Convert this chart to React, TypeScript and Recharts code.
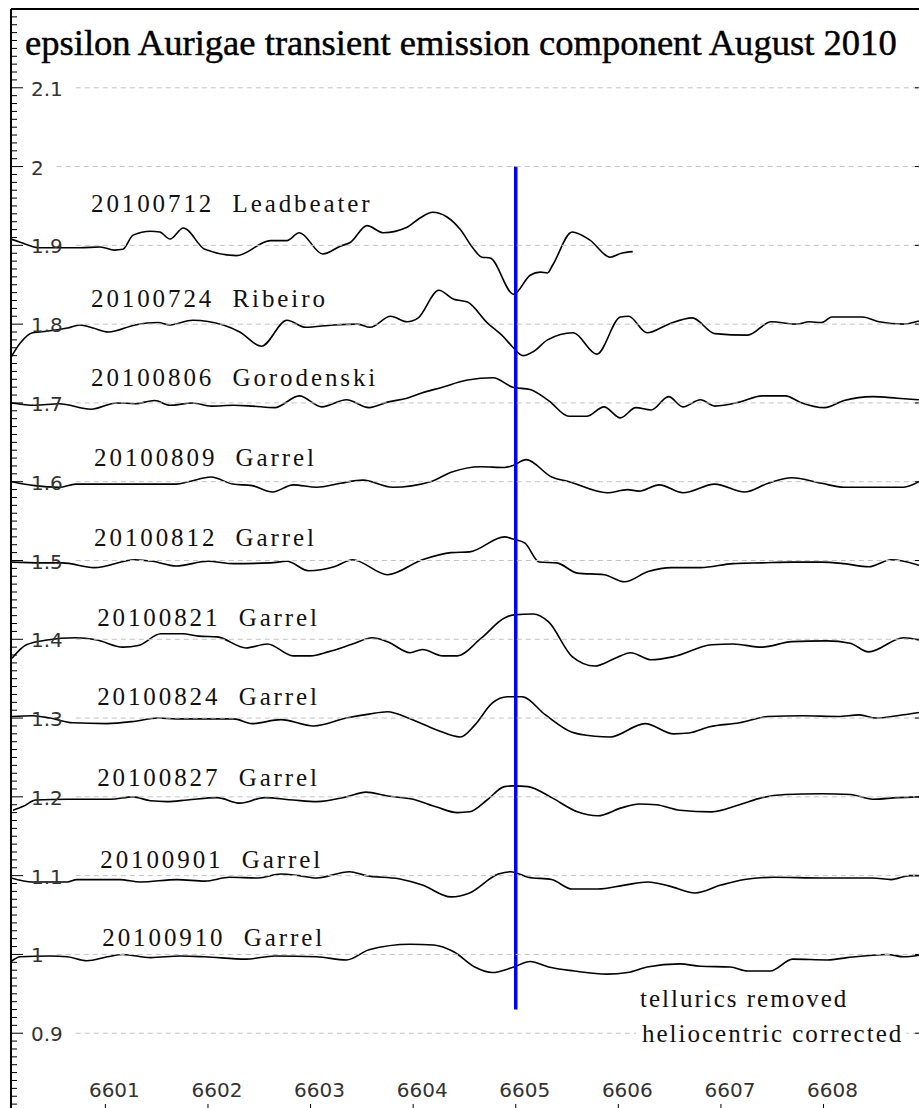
import React from 'react';
import { LineChart, Line, XAxis, YAxis, ReferenceLine, ReferenceDot } from 'recharts';

// wavelength (Å), relative flux; each night is offset by 0.1 in flux
const s20100712: [number, number][] = [
  [6600.08, 1.908], [6600.17, 1.904], [6600.36, 1.897], [6600.75, 1.897], [6600.95, 1.898],
  [6601.09, 1.894], [6601.17, 1.895], [6601.27, 1.913], [6601.44, 1.918], [6601.53, 1.917],
  [6601.63, 1.908], [6601.76, 1.922], [6601.97, 1.895], [6602.28, 1.887], [6602.61, 1.906],
  [6602.77, 1.906], [6602.89, 1.916], [6603.12, 1.889], [6603.29, 1.899], [6603.39, 1.904],
  [6603.55, 1.925], [6603.71, 1.916], [6603.94, 1.923], [6604.07, 1.935], [6604.19, 1.942],
  [6604.33, 1.936], [6604.46, 1.92], [6604.58, 1.897], [6604.67, 1.885], [6604.75, 1.884],
  [6604.98, 1.838], [6605.14, 1.862], [6605.24, 1.866], [6605.31, 1.865], [6605.36, 1.875],
  [6605.55, 1.917], [6605.72, 1.907], [6605.92, 1.885], [6606.03, 1.89], [6606.14, 1.892],
];

const s20100724: [number, number][] = [
  [6600.08, 1.758], [6600.17, 1.776], [6600.29, 1.789], [6600.36, 1.79], [6600.63, 1.795],
  [6600.75, 1.799], [6600.88, 1.795], [6601.03, 1.79], [6601.29, 1.799], [6601.51, 1.802],
  [6601.63, 1.799], [6601.85, 1.805], [6602.15, 1.799], [6602.31, 1.79], [6602.52, 1.772],
  [6602.77, 1.805], [6602.95, 1.796], [6603.22, 1.799], [6603.46, 1.8], [6603.58, 1.796],
  [6603.78, 1.81], [6603.94, 1.803], [6604.05, 1.808], [6604.25, 1.843], [6604.39, 1.832],
  [6604.53, 1.828], [6604.72, 1.802], [6604.88, 1.784], [6604.97, 1.771], [6605.07, 1.76],
  [6605.17, 1.765], [6605.31, 1.78], [6605.56, 1.789], [6605.79, 1.762], [6606.02, 1.809],
  [6606.1, 1.81], [6606.28, 1.789], [6606.49, 1.8], [6606.72, 1.808], [6606.94, 1.788],
  [6607.26, 1.786], [6607.49, 1.803], [6607.74, 1.8], [6607.86, 1.803], [6607.98, 1.802],
  [6608.08, 1.809], [6608.38, 1.809], [6608.54, 1.803], [6608.78, 1.8], [6608.93, 1.804],
];

const s20100806: [number, number][] = [
  [6600.09, 1.7], [6600.31, 1.697], [6600.55, 1.699], [6600.86, 1.692], [6601.11, 1.7],
  [6601.29, 1.699], [6601.48, 1.703], [6601.63, 1.697], [6601.85, 1.7], [6602.03, 1.696],
  [6602.25, 1.697], [6602.43, 1.696], [6602.65, 1.694], [6602.89, 1.709], [6603.11, 1.695],
  [6603.35, 1.704], [6603.57, 1.694], [6603.75, 1.701], [6603.94, 1.706], [6604.09, 1.713],
  [6604.26, 1.719], [6604.53, 1.729], [6604.78, 1.732], [6604.97, 1.72], [6605.14, 1.717],
  [6605.32, 1.703], [6605.52, 1.683], [6605.69, 1.683], [6605.86, 1.695], [6606.02, 1.681],
  [6606.17, 1.694], [6606.32, 1.691], [6606.49, 1.708], [6606.63, 1.695], [6606.8, 1.704],
  [6606.94, 1.696], [6607.18, 1.701], [6607.4, 1.709], [6607.63, 1.709], [6607.77, 1.701],
  [6608.01, 1.694], [6608.2, 1.703], [6608.48, 1.708], [6608.72, 1.706], [6608.93, 1.704],
];

const s20100809: [number, number][] = [
  [6600.09, 1.6], [6600.31, 1.595], [6600.55, 1.593], [6600.71, 1.597], [6601.69, 1.597],
  [6601.81, 1.6], [6602.03, 1.606], [6602.24, 1.597], [6602.43, 1.595], [6602.63, 1.587],
  [6602.83, 1.596], [6603.06, 1.593], [6603.29, 1.598], [6603.51, 1.602], [6603.8, 1.593],
  [6604.17, 1.6], [6604.37, 1.612], [6604.66, 1.619], [6604.89, 1.618], [6604.98, 1.621],
  [6605.1, 1.628], [6605.35, 1.606], [6605.52, 1.6], [6605.89, 1.586], [6606.09, 1.59],
  [6606.2, 1.588], [6606.4, 1.596], [6606.63, 1.586], [6606.94, 1.597], [6607.23, 1.587],
  [6607.46, 1.598], [6607.69, 1.605], [6607.98, 1.598], [6608.2, 1.593], [6608.48, 1.593],
  [6608.78, 1.593], [6608.93, 1.6],
];

const s20100812: [number, number][] = [
  [6600.09, 1.498], [6600.37, 1.497], [6600.58, 1.497], [6600.89, 1.491], [6601.29, 1.501],
  [6601.46, 1.499], [6601.69, 1.493], [6602.0, 1.499], [6602.25, 1.496], [6602.61, 1.497],
  [6602.77, 1.499], [6602.98, 1.487], [6603.23, 1.492], [6603.41, 1.501], [6603.75, 1.482],
  [6604.09, 1.501], [6604.37, 1.51], [6604.55, 1.511], [6604.89, 1.53], [6604.98, 1.527],
  [6605.09, 1.522], [6605.23, 1.498], [6605.4, 1.497], [6605.6, 1.484], [6605.86, 1.482],
  [6606.06, 1.473], [6606.29, 1.486], [6606.52, 1.491], [6606.8, 1.491], [6607.12, 1.496],
  [6607.4, 1.497], [6607.69, 1.498], [6607.98, 1.498], [6608.2, 1.496], [6608.44, 1.492],
  [6608.66, 1.501], [6608.93, 1.494],
];

const s20100821: [number, number][] = [
  [6600.09, 1.376], [6600.23, 1.393], [6600.43, 1.399], [6600.71, 1.402], [6600.92, 1.399],
  [6601.17, 1.39], [6601.32, 1.392], [6601.54, 1.407], [6601.75, 1.407], [6601.91, 1.404],
  [6602.09, 1.403], [6602.37, 1.389], [6602.58, 1.394], [6602.83, 1.379], [6603.0, 1.379],
  [6603.17, 1.384], [6603.41, 1.394], [6603.6, 1.402], [6603.75, 1.397], [6603.97, 1.383],
  [6604.09, 1.387], [6604.29, 1.379], [6604.43, 1.379], [6604.66, 1.401], [6604.89, 1.427],
  [6604.98, 1.431], [6605.17, 1.432], [6605.32, 1.422], [6605.55, 1.378], [6605.77, 1.366],
  [6605.97, 1.376], [6606.12, 1.383], [6606.32, 1.374], [6606.54, 1.378], [6606.91, 1.393],
  [6607.12, 1.394], [6607.4, 1.39], [6607.69, 1.397], [6608.03, 1.398], [6608.26, 1.395],
  [6608.44, 1.384], [6608.78, 1.402], [6608.93, 1.399],
];

const s20100824: [number, number][] = [
  [6600.09, 1.302], [6600.29, 1.303], [6600.46, 1.3], [6600.68, 1.294], [6601.01, 1.293],
  [6601.29, 1.296], [6601.51, 1.3], [6601.69, 1.299], [6602.25, 1.299], [6602.43, 1.293],
  [6602.71, 1.298], [6603.03, 1.29], [6603.35, 1.3], [6603.57, 1.305], [6603.75, 1.308],
  [6603.97, 1.299], [6604.23, 1.285], [6604.46, 1.276], [6604.6, 1.291], [6604.77, 1.319],
  [6604.92, 1.327], [6605.06, 1.327], [6605.29, 1.304], [6605.55, 1.282], [6605.77, 1.277],
  [6605.92, 1.276], [6606.26, 1.293], [6606.54, 1.28], [6606.69, 1.281], [6606.89, 1.289],
  [6607.18, 1.294], [6607.46, 1.302], [6607.8, 1.303], [6608.14, 1.302], [6608.35, 1.304],
  [6608.51, 1.3], [6608.72, 1.303], [6608.93, 1.307],
];

const s20100827: [number, number][] = [
  [6600.1, 1.183], [6600.2, 1.188], [6600.32, 1.196], [6600.63, 1.197], [6601.05, 1.197],
  [6601.27, 1.2], [6601.44, 1.195], [6601.6, 1.194], [6601.8, 1.196], [6602.09, 1.199],
  [6602.31, 1.192], [6602.55, 1.199], [6602.83, 1.196], [6603.06, 1.194], [6603.35, 1.2],
  [6603.54, 1.206], [6603.75, 1.201], [6604.0, 1.197], [6604.23, 1.187], [6604.43, 1.18],
  [6604.55, 1.181], [6604.72, 1.196], [6604.89, 1.213], [6604.98, 1.214], [6605.12, 1.213],
  [6605.35, 1.199], [6605.6, 1.181], [6605.8, 1.176], [6606.03, 1.186], [6606.2, 1.191],
  [6606.37, 1.19], [6606.6, 1.183], [6606.91, 1.181], [6607.18, 1.19], [6607.4, 1.199],
  [6607.63, 1.203], [6607.98, 1.204], [6608.26, 1.203], [6608.48, 1.197], [6608.72, 1.199],
  [6608.93, 1.2],
];

const s20100901: [number, number][] = [
  [6600.08, 1.097], [6600.29, 1.092], [6600.63, 1.092], [6600.72, 1.095], [6601.14, 1.095],
  [6601.34, 1.092], [6601.7, 1.095], [6601.97, 1.093], [6602.21, 1.098], [6602.49, 1.097],
  [6602.71, 1.102], [6602.89, 1.1], [6603.06, 1.097], [6603.38, 1.105], [6603.54, 1.1],
  [6603.86, 1.096], [6604.09, 1.088], [6604.37, 1.073], [6604.55, 1.078], [6604.83, 1.102],
  [6604.95, 1.105], [6605.12, 1.098], [6605.35, 1.095], [6605.55, 1.083], [6605.8, 1.083],
  [6606.06, 1.088], [6606.29, 1.092], [6606.49, 1.087], [6606.75, 1.078], [6607.0, 1.088],
  [6607.23, 1.095], [6607.52, 1.098], [6607.98, 1.097], [6608.48, 1.097], [6608.66, 1.095],
  [6608.84, 1.1], [6608.93, 1.1],
];

const s20100910: [number, number][] = [
  [6600.08, 0.991], [6600.17, 0.997], [6600.46, 0.998], [6600.63, 0.997], [6600.82, 0.992],
  [6601.02, 0.997], [6601.17, 1.0], [6601.44, 0.996], [6601.73, 0.998], [6601.97, 0.997],
  [6602.37, 0.994], [6602.65, 0.998], [6603.06, 0.997], [6603.35, 0.993], [6603.57, 1.006],
  [6603.97, 1.013], [6604.2, 1.012], [6604.4, 1.003], [6604.6, 0.984], [6604.77, 0.977],
  [6604.98, 0.984], [6605.14, 0.991], [6605.32, 0.984], [6605.57, 0.979], [6605.89, 0.975],
  [6606.09, 0.977], [6606.28, 0.984], [6606.6, 0.988], [6606.8, 0.985], [6607.09, 0.984],
  [6607.26, 0.979], [6607.48, 0.979], [6607.7, 0.994], [6608.04, 0.993], [6608.23, 0.996],
  [6608.62, 1.0], [6608.78, 0.997], [6608.93, 0.999],
];

const spectra = [
  s20100712, s20100724, s20100806, s20100809, s20100812,
  s20100821, s20100824, s20100827, s20100901, s20100910,
];

const spectrumNames = [
  '20100712  Leadbeater',
  '20100724  Ribeiro',
  '20100806  Gorodenski',
  '20100809  Garrel',
  '20100812  Garrel',
  '20100821  Garrel',
  '20100824  Garrel',
  '20100827  Garrel',
  '20100901  Garrel',
  '20100910  Garrel',
];

const wavelengthTicks = [6601, 6602, 6603, 6604, 6605, 6606, 6607, 6608];
const fluxTicks = [0.9, 1, 1.1, 1.2, 1.3, 1.4, 1.5, 1.6, 1.7, 1.8, 1.9, 2, 2.1];
const halphaRest = 6605;
const markerSpan = [2.0, 0.93];

const TITLE = 'epsilon Aurigae transient emission component August 2010';
const NOTES = ['tellurics removed', 'heliocentric corrected'];

// layout: plot area runs from x=11 to 921 and y=9 to 1112
const W = 940;
const H = 1130;
const M = { top: 8, right: 19, bottom: 17, left: 10 };
const PLOT_W = 910;
const X_DOMAIN: [number, number] = [6600.08, 6608.95];
const Y_DOMAIN: [number, number] = [0.8, 2.2];
const SANS = '"DejaVu Sans", sans-serif';
const SERIF = '"Liberation Serif", "Times New Roman", serif';

// where each spectrum's name is written (left edge, baseline)
const nameAnchors: [number, number][] = [
  [6600.86, 1.942], [6600.86, 1.822], [6600.86, 1.722], [6600.89, 1.62], [6600.89, 1.519],
  [6600.92, 1.417], [6600.92, 1.316], [6600.92, 1.214], [6600.95, 1.11], [6600.97, 1.011],
];

// minor ticks every 0.01 along the flux axis
const minorTicks = Array.from({ length: 141 }, (_, i) => Math.round((0.8 + i * 0.01) * 100) / 100);

const labelWidth = (s: string) =>
  s.split('').reduce((w, c) => w + (c === '.' ? 0.318 : 0.636), 0) * 20;

const FluxTick = (props: any) => {
  const { y, payload } = props;
  const x = 11;
  const v = payload.value;
  const major = fluxTicks.find((t) => Math.abs(t - v) < 1e-6);
  if (major === undefined) {
    return <line x1={x} y1={y} x2={x + 6} y2={y} stroke="#000" strokeWidth={1} />;
  }
  const text = String(major);
  const gx = x + 20 + labelWidth(text) + 13;
  const right = x + PLOT_W;
  return (
    <g>
      <line x1={gx} y1={y} x2={right} y2={y} stroke="#c4c4c4" strokeDasharray="5 4" />
      <line x1={x} y1={y} x2={x + 12} y2={y} stroke="#000" strokeWidth={1} />
      <line x1={right - 6} y1={y} x2={right} y2={y} stroke="#000" strokeWidth={1} />
      <text x={x + 20} y={y + 8} fontSize={20} fontFamily={SANS} fill="#333">
        {text}
      </text>
    </g>
  );
};

const BottomTick = (props: any) => {
  const { x, payload } = props;
  const y = 1112;
  return (
    <g>
      <line x1={x} y1={y} x2={x} y2={y - 8} stroke="#000" strokeWidth={1} />
      <text x={x + 9} y={y - 15} textAnchor="middle" fontSize={20} fontFamily={SANS} fill="#333">
        {payload.value}
      </text>
    </g>
  );
};

const TopTick = (props: any) => {
  const { x } = props;
  return <line x1={x} y1={9} x2={x} y2={17} stroke="#000" strokeWidth={1.2} />;
};

const nameShape = (text: string) => (p: any) => (
  <text
    x={p.cx}
    y={p.cy}
    fontSize={25}
    fontFamily={SERIF}
    letterSpacing={2.9}
    fill="#111"
    style={{ whiteSpace: 'pre' }}
  >
    {text}
  </text>
);

export default function App() {
  const series = spectra.map((pts) => pts.map(([w, f]) => ({ w, f })));

  return (
    <div
      style={{
        position: 'absolute',
        left: 0,
        top: 0,
        width: 919,
        height: 1108,
        overflow: 'hidden',
        background: '#fff',
      }}
    >
      <LineChart width={W} height={H} margin={M}>
        <XAxis
          xAxisId="w"
          dataKey="w"
          type="number"
          domain={X_DOMAIN}
          allowDataOverflow
          ticks={wavelengthTicks}
          interval={0}
          height={1}
          tickSize={0}
          tickMargin={0}
          tickLine={false}
          axisLine={{ stroke: '#000', strokeWidth: 2 }}
          tick={<BottomTick />}
        />
        <XAxis
          xAxisId="top"
          orientation="top"
          type="number"
          domain={X_DOMAIN}
          allowDataOverflow
          ticks={wavelengthTicks}
          interval={0}
          height={1}
          tickSize={0}
          tickMargin={0}
          tickLine={false}
          axisLine={{ stroke: '#000', strokeWidth: 2 }}
          tick={<TopTick />}
        />
        <YAxis
          yAxisId="f"
          type="number"
          domain={Y_DOMAIN}
          allowDataOverflow
          ticks={minorTicks}
          interval={0}
          width={1}
          tickSize={0}
          tickMargin={0}
          tickLine={false}
          axisLine={{ stroke: '#000', strokeWidth: 2 }}
          tick={<FluxTick />}
        />
        {series.map((d, i) => (
          <Line
            key={spectrumNames[i]}
            xAxisId="w"
            yAxisId="f"
            data={d}
            dataKey="f"
            type="monotone"
            stroke="#000"
            strokeWidth={1.6}
            dot={false}
            activeDot={false}
            isAnimationActive={false}
            zIndex={600}
          />
        ))}
        <ReferenceLine
          xAxisId="w"
          yAxisId="f"
          segment={[
            { x: halphaRest, y: markerSpan[0] },
            { x: halphaRest, y: markerSpan[1] },
          ]}
          stroke="#0000ff"
          strokeWidth={3.5}
          ifOverflow="visible"
          zIndex={700}
        />
        {spectrumNames.map((name, i) => (
          <ReferenceDot
            key={'n' + i}
            xAxisId="w"
            yAxisId="f"
            x={nameAnchors[i][0]}
            y={nameAnchors[i][1]}
            r={0}
            ifOverflow="visible"
            shape={nameShape(name)}
          />
        ))}
      </LineChart>
      <svg
        width={919}
        height={1108}
        style={{ position: 'absolute', left: 0, top: 0, pointerEvents: 'none' }}
      >
        <text x={25} y={55} fontSize={36.6} fontFamily={SERIF} fill="#000" stroke="#000" strokeWidth={0.45}>
          {TITLE}
        </text>
        <text x={640} y={1007} fontSize={25} fontFamily={SERIF} letterSpacing={2} fill="#111">
          {NOTES[0]}
        </text>
        <rect x={636} y={1022} width={270} height={24} fill="#fff" />
        <text x={642} y={1042} fontSize={25} fontFamily={SERIF} letterSpacing={2} fill="#111">
          {NOTES[1]}
        </text>
      </svg>
    </div>
  );
}
